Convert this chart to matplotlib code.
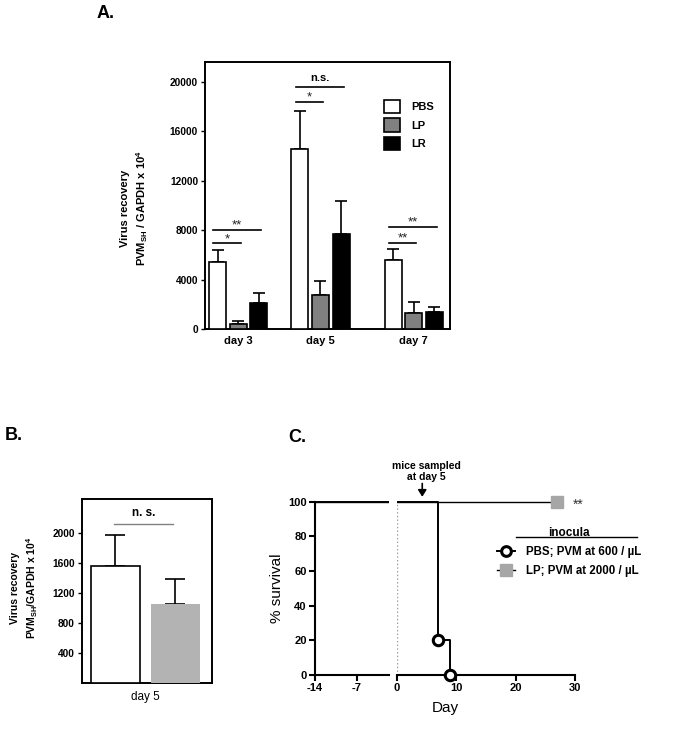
import numpy as np
import matplotlib
matplotlib.use("Agg")
import matplotlib.pyplot as plt
from matplotlib.patches import Patch
from matplotlib.lines import Line2D

plt.rcParams['font.family'] = ['Liberation Sans', 'DejaVu Sans']
plt.rcParams['mathtext.fontset'] = 'custom'
plt.rcParams['mathtext.rm'] = 'Liberation Sans'
plt.rcParams['mathtext.bf'] = 'Liberation Sans:bold'
plt.rcParams['mathtext.default'] = 'bf'

# ---- panel A data ----
days_a = ['day 3', 'day 5', 'day 7']
groups = ['PBS', 'LP', 'LR']
pbs_a = [5460, 14550, 5600]
pbs_a_err = [920, 3080, 840]
lp_a = [410, 2790, 1270]
lp_a_err = [270, 1080, 920]
lr_a = [2110, 7650, 1380]
lr_a_err = [810, 2730, 430]
# (day index, bar i, bar j, height, label)
sig_a = [(0, 0, 2, 8030, '**'), (0, 0, 1, 6950, '*'),
         (1, 0, 2, 19600, 'n.s.'), (1, 0, 1, 18360, '*'),
         (2, 0, 2, 8250, '**'), (2, 0, 1, 6980, '**')]

# ---- panel B data ----
pbs_b = 1568
pbs_b_err = 409
lp_b = 1057
lp_b_err = 334
ns_b = 2128

# ---- panel C data ----
pbs_time = [-14, 7, 9, 30]
pbs_surv = [100, 20, 0, 0]
lp_time = [-14, 27]
lp_surv = [100, 100]

colors_a = ['white', '#808080', 'black']

fig = plt.figure(figsize=(6.85, 7.34), dpi=100)

def frac(l, t, r, b):
    return [l / 685, 1 - b / 734, (r - l) / 685, (b - t) / 734]

def fx(px):
    return px / 685

def fy(py):
    return 1 - py / 734

# ================= A =================
ax = fig.add_axes(frac(205, 62, 450, 329))
centers = np.array([0, 1, 2.134])
offs = [-0.25, 0, 0.25]
w = 0.207
vals = [pbs_a, lp_a, lr_a]
errs = [pbs_a_err, lp_a_err, lr_a_err]
for k in range(3):
    x = centers + offs[k]
    ax.errorbar(x, vals[k], yerr=[np.zeros(3), errs[k]], fmt='none',
                ecolor='black', elinewidth=1.2, capsize=4.5, capthick=1.2, zorder=2)
    ax.bar(x, vals[k], width=w, color=colors_a[k], edgecolor='black',
           linewidth=1.2, zorder=3, label=groups[k])

for d, i, j, h, lab in sig_a:
    x0 = centers[d] + offs[i] - 0.05
    x1 = centers[d] + offs[j] + 0.03
    ax.plot([x0, x1], [h, h], color='black', lw=1.2)
    if lab == 'n.s.':
        ax.text((x0 + x1) / 2, h + 300, lab, ha='center', va='bottom',
                fontsize=8, fontweight='bold')
    else:
        ax.text((x0 + x1) / 2, h - 150, lab, ha='center', va='bottom',
                fontsize=9.5, color='#222222')

ax.set_xlim(-0.403, 2.574)
ax.set_ylim(0, 21600)
ax.set_yticks(np.arange(0, 20001, 4000))
ax.set_xticks(centers)
ax.set_xticklabels(days_a, fontsize=8, fontweight='bold')
ax.tick_params(axis='x', length=0, pad=5)
ax.tick_params(axis='y', length=3, width=1, labelsize=7.3, pad=2)
for t in ax.get_yticklabels():
    t.set_fontweight('bold')
for s in ax.spines.values():
    s.set_linewidth(1.4)
fig.text(fx(135), fy(208), 'Virus recovery\nPVM$_{SH}$ / GAPDH x 10$^4$',
         fontsize=8, fontweight='bold', linespacing=1.35, rotation=90,
         ha='center', va='center', multialignment='center')
handles = [Patch(facecolor=c, edgecolor='black', linewidth=1.2) for c in colors_a]
ax.legend(handles, groups, loc='upper left', bbox_to_anchor=(0.706, 0.88),
          frameon=False, borderpad=0, handlelength=1.5, handleheight=1.5,
          handletextpad=1.0, labelspacing=0.45,
          prop={'size': 8, 'weight': 'bold'})
fig.text(fx(97), fy(14), 'A.', fontsize=13, fontweight='bold',
         ha='left', va='center')

# ================= B =================
bx = fig.add_axes(frac(81.7, 499, 212, 683))
bx.errorbar([0, 1], [pbs_b, lp_b], yerr=[[0, 0], [pbs_b_err, lp_b_err]],
            fmt='none', ecolor='black', elinewidth=1.2, capsize=7, capthick=1.2,
            zorder=2)
bx.bar([0], [pbs_b], width=0.82, color='white', edgecolor='black', linewidth=1.2, zorder=3)
bx.bar([1], [lp_b], width=0.82, color='#b3b3b3', edgecolor='none', zorder=3)
bx.plot([-0.02, 0.96], [ns_b, ns_b], color='#808080', lw=1.0)
bx.text(0.47, ns_b + 60, 'n. s.', ha='center', va='bottom', fontsize=8.5,
        fontweight='bold')
bx.set_xlim(-0.56, 1.612)
bx.set_ylim(0, 2457)
bx.set_yticks(np.arange(400, 2001, 400))
bx.set_xticks([0.5])
bx.set_xticklabels(['day 5'], fontsize=8.5)
bx.tick_params(axis='x', length=0, pad=6)
bx.tick_params(axis='y', length=3, width=1, labelsize=7.3, pad=2)
for t in bx.get_yticklabels():
    t.set_fontweight('bold')
for s in bx.spines.values():
    s.set_linewidth(1.4)
fig.text(fx(25), fy(588), 'Virus recovery\nPVM$_{SH}$/GAPDH x 10$^4$',
         fontsize=7.5, fontweight='bold', linespacing=1.35, rotation=90,
         ha='center', va='center', multialignment='center')
fig.text(fx(5), fy(435), 'B.', fontsize=13, fontweight='bold',
         ha='left', va='center')

# ================= C =================
ytop = 103
cl = fig.add_axes(frac(315, 496.5, 389, 675))
cr = fig.add_axes(frac(396.7, 496.5, 575, 675))
for a in (cl, cr):
    a.step(pbs_time, pbs_surv, where='post', color='black', lw=1.4, zorder=3)
    a.plot(lp_time, lp_surv, color='black', lw=1.0, zorder=2)
    a.set_ylim(0, ytop)
    a.spines['top'].set_visible(False)
    a.spines['right'].set_visible(False)
    a.spines['bottom'].set_linewidth(1.5)
    a.spines['left'].set_linewidth(1.5)
    a.spines['left'].set_bounds(0, 100)
    a.tick_params(length=4, width=1.5, labelsize=8, pad=2)
cr.plot(pbs_time[1:3], pbs_surv[1:3], 'o', ms=7.5, mfc='white', mec='black',
        mew=2.2, clip_on=False, zorder=5)
cr.plot(lp_time[-1:], lp_surv[-1:], 's', ms=8, color='#a6a6a6', clip_on=False, zorder=5)
cr.annotate('**', xy=(lp_time[-1], lp_surv[-1]), xytext=(15.5, -2),
            textcoords='offset points', ha='center', va='center', fontsize=10,
            color='#333333', annotation_clip=False)
cl.set_xlim(-14, -1.54)
cl.set_xticks([-14, -7])
cl.set_xticklabels(['-14', '-7'])
cl.set_yticks(np.arange(0, 101, 20))
cr.set_xlim(0, 30)
cr.set_xticks([0, 10, 20, 30])
cr.spines['left'].set_visible(False)
cr.tick_params(axis='y', left=False, labelleft=False)
cr.vlines(0, 0, 100, color='#999999', lw=1, ls=':', zorder=1)
for t in cl.get_xticklabels() + cl.get_yticklabels() + cr.get_xticklabels():
    t.set_fontweight('bold')
fig.text(fx(276.7), fy(588), '% survival', fontsize=11, rotation=90,
         ha='center', va='center')
fig.text(fx(445), fy(708), 'Day', fontsize=11, ha='center', va='center')

cr.annotate('', xy=(4.3, 102.8), xytext=(4.3, 110.5), annotation_clip=False,
            arrowprops=dict(arrowstyle='-|>,head_width=0.25,head_length=0.4',
                            color='black', lw=1.2, shrinkA=0, shrinkB=0))
cr.text(5.0, 111.5, 'mice sampled\nat day 5', ha='center', va='bottom',
        fontsize=7.5, fontweight='bold', linespacing=1.1, clip_on=False)

leg_h = [Line2D([], [], color='black', lw=1.4, marker='o', ms=7, mfc='white',
                mec='black', mew=2.2),
         Line2D([], [], color='black', lw=1.0, marker='s', ms=8,
                mfc='#a6a6a6', mec='#a6a6a6')]
leg = cr.legend(leg_h, ['PBS; PVM at 600 / µL', 'LP; PVM at 2000 / µL'],
                title='inocula', loc='upper left',
                bbox_to_anchor=(fx(491), fy(521)),
                bbox_transform=fig.transFigure, frameon=False, borderpad=0,
                handlelength=1.6, handletextpad=0.9, labelspacing=0.6,
                prop={'size': 8.3, 'weight': 'bold'},
                title_fontproperties={'size': 8.5, 'weight': 'bold'})
fig.add_artist(Line2D([fx(516), fx(637)], [fy(537), fy(537)],
                      color='black', lw=1.0))
fig.text(fx(288), fy(437), 'C.', fontsize=13, fontweight='bold',
         ha='left', va='center')

fig.savefig('out.png', dpi=100)
